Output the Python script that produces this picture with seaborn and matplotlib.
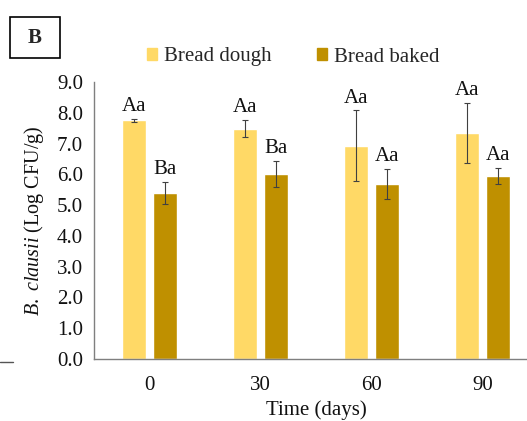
import matplotlib
matplotlib.use("Agg")
import matplotlib.pyplot as plt
import seaborn as sns
import pandas as pd
from matplotlib.patches import Rectangle
from matplotlib.lines import Line2D

days = ["0", "30", "60", "90"]
series = ["Bread dough", "Bread baked"]
dough = [7.75, 7.48, 6.93, 7.34]
baked = [5.40, 6.01, 5.69, 5.95]
dough_err = [0.06, 0.28, 1.15, 0.97]
baked_err = [0.36, 0.42, 0.49, 0.25]
dough_lbl = ["Aa", "Aa", "Aa", "Aa"]
baked_lbl = ["Ba", "Ba", "Aa", "Aa"]
yticks = [0, 1, 2, 3, 4, 5, 6, 7, 8, 9]

colors = {"Bread dough": "#FFD966", "Bread baked": "#BF9000"}

sns.set_style("white")
plt.rcParams["font.family"] = ["Liberation Serif", "DejaVu Serif"]
plt.rcParams["mathtext.fontset"] = "custom"
plt.rcParams["mathtext.rm"] = "Liberation Serif"
plt.rcParams["mathtext.it"] = "Liberation Serif:italic"

FS = 15

df = pd.DataFrame({
    "Time": days * 2,
    "Series": [series[0]] * 4 + [series[1]] * 4,
    "Value": dough + baked,
})

fig = plt.figure(figsize=(5.27, 4.21), dpi=100)
ax = fig.add_axes([94 / 527, 1 - 359 / 421, 444 / 527, (359 - 82) / 421])

sns.barplot(data=df, x="Time", y="Value", hue="Series", order=days,
            hue_order=series, palette=colors, width=0.55, gap=0.21,
            errorbar=None, saturation=1, ax=ax, legend=False)

errs = dough_err + baked_err
vals = dough + baked
lbls = dough_lbl + baked_lbl
for patch, v, e, t in zip(ax.patches, vals, errs, lbls):
    xc = patch.get_x() + patch.get_width() / 2
    ax.errorbar(xc, v, yerr=e, fmt="none", ecolor="#404040", elinewidth=0.8,
                capsize=2.5, capthick=0.8)
    ax.annotate(t, (xc, v + e), xytext=(0, 2), textcoords="offset points",
                ha="center", va="bottom", fontsize=FS, color="#111111")

ax.set_ylim(0, 9)
ax.set_xlim(-0.5, 3.5)
ax.set_yticks(yticks)
ax.set_yticklabels([f"{t:.1f}" for t in yticks])
ax.tick_params(axis="y", length=0, pad=8, labelsize=FS, labelcolor="#111111")
ax.tick_params(axis="x", length=0, pad=12, labelsize=FS, labelcolor="#111111")
ax.set_xlabel("Time (days)", fontsize=FS, color="#111111", labelpad=4)
ax.set_ylabel(r"$\mathit{B.\ clausii}$ (Log CFU/g)", fontsize=14.5,
              color="#111111", labelpad=8)
for s in ["top", "right"]:
    ax.spines[s].set_visible(False)
for s in ["left", "bottom"]:
    ax.spines[s].set_color("#7f7f7f")
    ax.spines[s].set_linewidth(1.0)

handles = [Rectangle((0, 0), 1, 1, color=colors[s]) for s in series]
fig.legend(handles, series, loc="center", bbox_to_anchor=(293 / 527, 1 - 57 / 421),
           ncol=2, frameon=False, fontsize=FS, handlelength=0.5, handleheight=0.5,
           handletextpad=0.3, columnspacing=2.2)

fig.add_artist(Rectangle((10 / 527, 1 - 58 / 421), 50 / 527, 41 / 421,
                         transform=fig.transFigure, fill=False,
                         edgecolor="black", linewidth=1.2))
fig.text(35 / 527, 1 - 38 / 421, "B", ha="center", va="center",
         fontsize=15, fontweight="bold")
fig.add_artist(Line2D([0, 13 / 527], [1 - 362 / 421, 1 - 362 / 421],
                      transform=fig.transFigure, color="#555555", linewidth=1))

fig.savefig("out.png", dpi=100)
